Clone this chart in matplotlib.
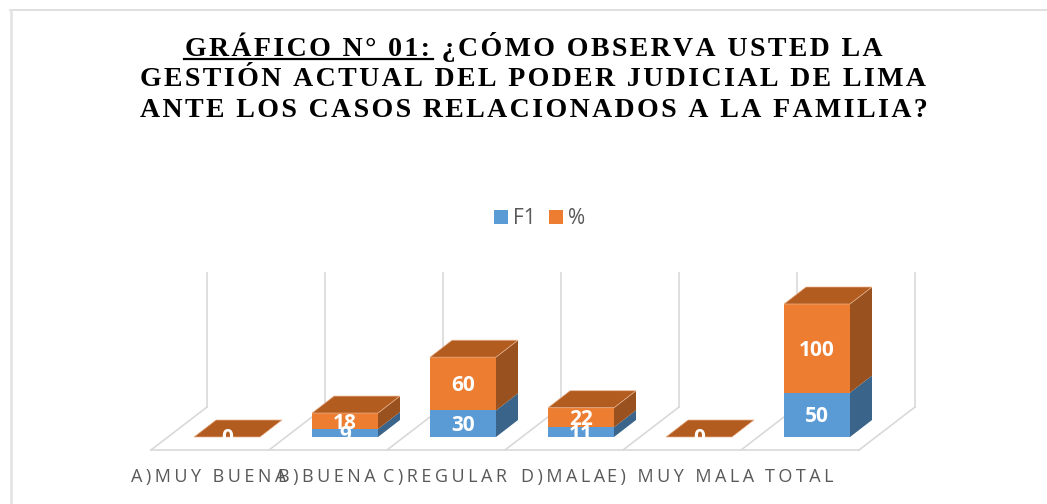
import matplotlib
matplotlib.use("Agg")
import matplotlib.pyplot as plt
from matplotlib.patches import Polygon, Rectangle
import numpy as np

# datos
categorias = ["A)MUY BUENA", "B)BUENA", "C)REGULAR", "D)MALA", "E) MUY MALA", "TOTAL"]
f1 = [0, 9, 30, 11, 0, 50]
pct = [0, 18, 60, 22, 0, 100]
serie_nombres = ["F1", "%"]

W, H = 1047, 504
HAIR = "\u200a"


def espaciado(s, n=2):
    return (HAIR * n).join(s)


fig = plt.figure(figsize=(W / 100, H / 100), dpi=100)

# ejes de pixel a datos: x=0 en 227 px, 118 px por categoria; y=0 en 437 px, 133 px = 150
px_x = 118.0
px_y = 133.0 / 150
left, right, top, bottom = 151, 915, 273, 450
ax = fig.add_axes([left / W, 1 - bottom / H, (right - left) / W, (bottom - top) / H])
ax.set_xlim((left - 227) / px_x, (right - 227) / px_x)
ax.set_ylim((437 - bottom) / px_y, (437 - top) / px_y)
ax.axis("off")

# profundidad 3D en unidades de datos
dx = 22 / px_x
dy = 17 / px_y
ancho = 66 / px_x
grid = "#d9d9d9"

# piso y paredes
x_front = (np.arange(7) * 118 + 151 - 227) / px_x
x_back = (np.arange(7) * 118 + 207 - 227) / px_x
y_front = (437 - 450) / px_y
y_back = (437 - 407) / px_y
y_top = (437 - 273) / px_y
for xf, xb in zip(x_front, x_back):
    ax.plot([xf, xb], [y_front, y_back], color=grid, lw=1.2, zorder=1, clip_on=False)
    ax.plot([xb, xb], [y_back, y_top], color=grid, lw=1.2, zorder=1, clip_on=False)
ax.plot([x_front[0], x_front[-1]], [y_front, y_front], color=grid, lw=1.2, zorder=1, clip_on=False)

colores = ["#5b9bd5", "#ed7d31"]
lados = ["#3a6489", "#99521f"]
tapa = "#b35c20"

x = np.arange(len(categorias))
base = np.zeros(len(categorias))
z = 2
for serie, col, lado in zip([f1, pct], colores, lados):
    vals = np.array(serie, dtype=float)
    for xi, b, v in zip(x, base, vals):
        x1 = xi + ancho / 2
        if v > 0:
            ax.add_patch(Polygon([(x1, b), (x1 + dx, b + dy), (x1 + dx, b + v + dy), (x1, b + v)],
                                 facecolor=lado, edgecolor="none", zorder=z))
            ax.bar(xi, v, ancho, bottom=b, color=col, zorder=z + 1)
    base = base + vals
    z += 2

# tapa superior de cada pila
for xi, t in zip(x, base):
    x0 = xi - ancho / 2
    x1 = xi + ancho / 2
    ax.add_patch(Polygon([(x0, t), (x1, t), (x1 + dx, t + dy), (x0 + dx, t + dy)],
                         facecolor=tapa, edgecolor="#e9b48f", lw=0.5, zorder=8))

# etiquetas de datos
base = np.zeros(len(categorias))
for serie in [f1, pct]:
    vals = np.array(serie, dtype=float)
    for xi, b, v, s in zip(x, base, vals, serie):
        if v == 0 and serie is f1:
            continue
        ax.text(xi, b + v / 2 - 2 / px_y, str(s), color="white", ha="center", va="center", fontsize=15,
                fontweight="bold", family="Open Sans", zorder=9, clip_on=False)
    base = base + vals

# etiquetas del eje
for xi, c in zip(x, categorias):
    ax.text(xi - 18 / px_x, (437 - 477) / px_y, espaciado(c), color="#595959", ha="center", va="center",
            fontsize=13, family=["Open Sans", "DejaVu Sans"], clip_on=False)

# leyenda
for xp, col, nombre in zip([494, 549], colores, serie_nombres):
    fig.add_artist(Rectangle((xp / W, 1 - 224 / H), 14 / W, 14 / H, transform=fig.transFigure,
                             facecolor=col, edgecolor="none"))
    fig.text((xp + 19) / W, 1 - 219 / H, nombre, color="#595959", fontsize=15,
             family="Open Sans", ha="left", va="center")

# titulo
titulo = ["GRÁFICO N° 01: ¿CÓMO OBSERVA USTED LA",
          "GESTIÓN ACTUAL DEL PODER JUDICIAL DE LIMA",
          "ANTE LOS CASOS RELACIONADOS A LA FAMILIA?"]
for lin, yb in zip(titulo, [55.5, 86, 116.5]):
    fig.text(533.5 / W, 1 - yb / H, espaciado(lin, 1), ha="center", va="baseline", fontsize=20.1,
             fontweight="bold", color="black", family=["Liberation Serif", "DejaVu Sans"])
fig.add_artist(plt.Line2D([184 / W, 433 / W], [1 - 59 / H, 1 - 59 / H], color="black", lw=1.6))

# marco
fig.add_artist(plt.Line2D([10 / W, 1], [1 - 10 / H, 1 - 10 / H], color=grid, lw=1.2))
fig.add_artist(plt.Line2D([10.5 / W, 10.5 / W], [0, 1 - 10 / H], color="#e2e2e2", lw=1.8))

fig.savefig("out.png", dpi=100)
